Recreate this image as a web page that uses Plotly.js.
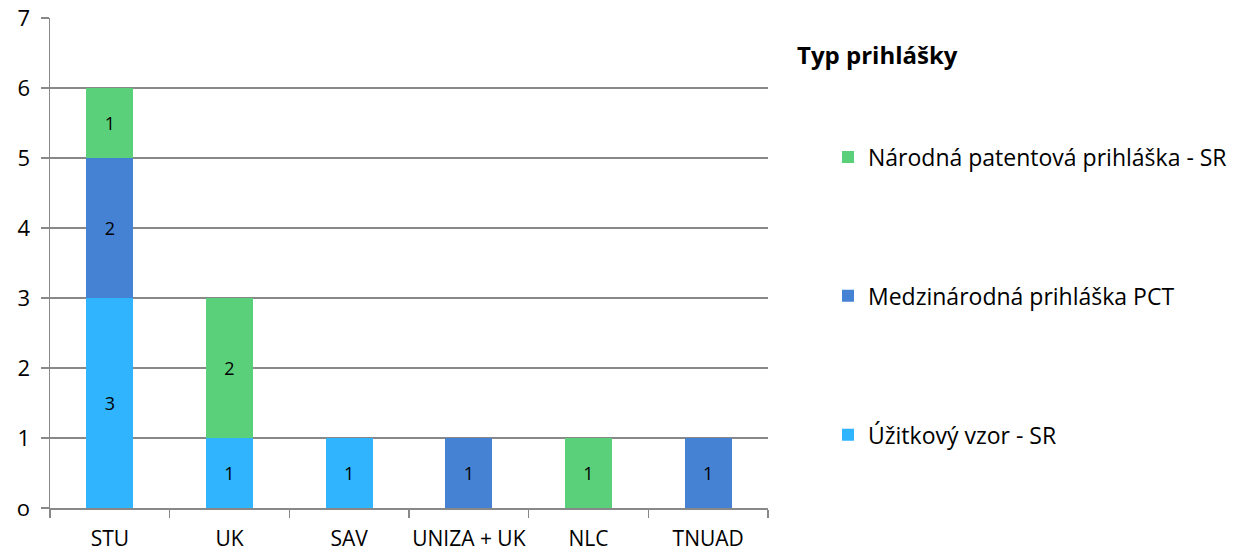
<!DOCTYPE html>
<html>
<head>
<meta charset="utf-8">
<script src="https://cdn.plot.ly/plotly-3.0.1.min.js"></script>
<style>html,body{margin:0;padding:0;background:#fff;}#chart{width:1250px;height:553px;}</style>
</head>
<body>
<div id="chart"></div>
<script>
const categories = ["STU", "UK", "SAV", "UNIZA + UK", "NLC", "TNUAD"];
const uzitkovyVzor = [3, 1, 1, null, null, null];
const medzinarodnaPCT = [2, null, null, 1, null, 1];
const narodnaPatentova = [1, 2, null, null, 1, null];
const seriesNames = ["Úžitkový vzor - SR", "Medzinárodná prihláška PCT", "Národná patentová prihláška - SR"];
const legendTitle = "Typ prihlášky";
const yTicks = [0, 1, 2, 3, 4, 5, 6, 7];
const yTickLabels = ["o", "1", "2", "3", "4", "5", "6", "7"];

const colors = ["#31B4FE", "#4682D4", "#5BD07A"];
const FONT = "Open Sans, Noto Sans, sans-serif";

function mk(vals, name, color, grp, rank) {
  return {
    type: "bar", x: categories, y: vals, name: name, legendgroup: grp, legendrank: rank,
    marker: {color: color, line: {width: 0}},
    text: vals.map(v => v == null ? "" : String(v)),
    textposition: "inside", insidetextanchor: "middle", textangle: 0,
    constraintext: "none",
    insidetextfont: {family: FONT, size: 18, color: "#000"},
    hoverinfo: "x+y+name"
  };
}
const data = [
  mk(uzitkovyVzor, seriesNames[0], colors[0], "a", 3),
  mk(medzinarodnaPCT, seriesNames[1], colors[1], "b", 2),
  mk(narodnaPatentova, seriesNames[2], colors[2], "c", 1)
];

const layout = {
  width: 1250, height: 553,
  margin: {l: 50, r: 482, t: 18, b: 45, pad: 0},
  barmode: "stack", bargap: 0.605,
  paper_bgcolor: "#fff", plot_bgcolor: "#fff",
  font: {family: FONT, size: 22, color: "#000"},
  xaxis: {
    showline: true, linecolor: "#888", linewidth: 1.5,
    ticks: "outside", tickson: "boundaries", ticklen: 8, tickcolor: "#888", tickwidth: 1.5,
    showgrid: false, tickfont: {family: FONT, size: 21, color: "#000"},
    tickangle: 0, ticklabelstandoff: 11,
    fixedrange: true
  },
  yaxis: {
    range: [0, 7], tickvals: yTicks, ticktext: yTickLabels,
    showline: true, linecolor: "#888", linewidth: 1.5,
    ticks: "outside", ticklen: 8, tickcolor: "#888", tickwidth: 1.5,
    showgrid: true, gridcolor: "#888", gridwidth: 1.5, zeroline: false,
    tickfont: {family: FONT, size: 22, color: "#000"},
    ticklabelstandoff: 6,
    fixedrange: true
  },
  showlegend: true,
  legend: {
    xref: "container", yref: "container",
    x: 0.6624, xanchor: "left", y: 0.755, yanchor: "top",
    maxheight: 540,
    traceorder: "grouped", tracegroupgap: 106,
    font: {family: FONT, size: 23, color: "#000"},
    bgcolor: "rgba(0,0,0,0)", itemclick: false, itemdoubleclick: false
  },
  annotations: [{
    text: "<b>" + legendTitle + "</b>", xref: "paper", yref: "paper",
    x: 1.037, y: 0.925, xanchor: "left", yanchor: "middle", showarrow: false,
    font: {family: FONT, size: 24, color: "#000"}
  }]
};
Plotly.newPlot("chart", data, layout, {displayModeBar: false, staticPlot: true});
</script>
</body>
</html>
